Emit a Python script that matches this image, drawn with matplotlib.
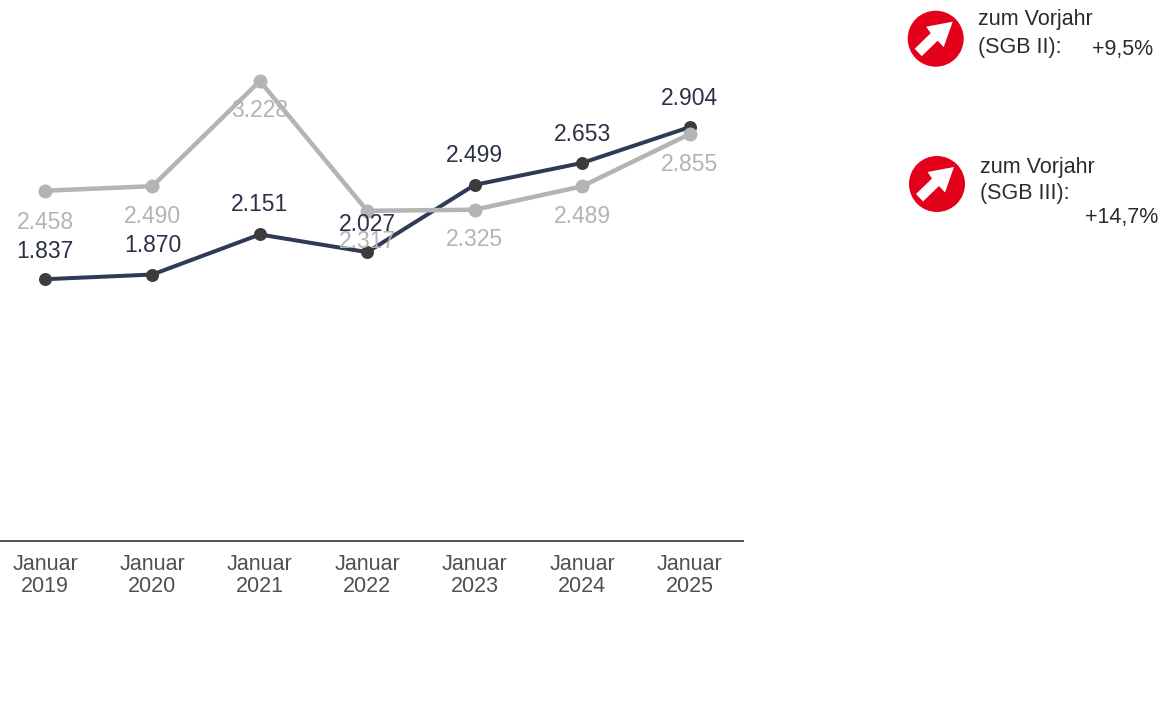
import matplotlib
matplotlib.use("Agg")
import matplotlib.pyplot as plt
from matplotlib.patches import Circle, Polygon

plt.rcParams['font.family'] = ['Liberation Sans', 'DejaVu Sans']

years = ["2019", "2020", "2021", "2022", "2023", "2024", "2025"]
sgb2 = [1837, 1870, 2151, 2027, 2499, 2653, 2904]
sgb3 = [2458, 2490, 3228, 2317, 2325, 2489, 2855]
sgb2_labels = ["1.837", "1.870", "2.151", "2.027", "2.499", "2.653", "2.904"]
sgb3_labels = ["2.458", "2.490", "3.228", "2.317", "2.325", "2.489", "2.855"]

W, H = 1163, 704
PT = 0.72  # points per pixel at dpi 100
DARK = "#2f3a55"
DARK_TXT = "#2b3246"
GRAY = "#b4b4b4"
RED = "#e2001a"

fig = plt.figure(figsize=(W / 100, H / 100), dpi=100, facecolor="white")
ax = fig.add_axes([0, (H - 541) / H, 743 / W, 541 / H])
x = list(range(len(years)))
ax.plot(x, sgb2, color=DARK, lw=4 * PT, zorder=3, solid_capstyle="round")
ax.plot(x, sgb2, ls="", marker="o", ms=13 * PT, color="#3c3c3c", mew=0, zorder=4)
ax.plot(x, sgb3, color=GRAY, lw=4.5 * PT, zorder=5, marker="o", ms=14 * PT, mew=0)
ax.set_xlim(-0.419, 6.498)
ax.set_ylim(0, 541 / 0.1425)
for s in ["top", "left", "right"]:
    ax.spines[s].set_visible(False)
ax.spines["bottom"].set_color("#555555")
ax.spines["bottom"].set_linewidth(2 * PT)
ax.set_yticks([])
ax.set_xticks(x)
ax.set_xticklabels([f"Januar\n{y}" for y in years], fontsize=15.5, color="#505050",
                   linespacing=1.12)
ax.tick_params(axis="x", length=0, pad=9)

# label offsets from the point, in pixels (upward positive)
off2 = [28, 29, 30, 28, 29, 28, 29]
off3 = [-32, -30, -29, -31, -30, -30, -30]
for i in x:
    ax.annotate(sgb3_labels[i], (i, sgb3[i]), xytext=(0, off3[i] * PT), textcoords="offset points",
                ha="center", va="center", fontsize=16.5, color=GRAY, zorder=6)
for i in x:
    ax.annotate(sgb2_labels[i], (i, sgb2[i]), xytext=(0, off2[i] * PT), textcoords="offset points",
                ha="center", va="center", fontsize=16.5, color=DARK_TXT, zorder=7)

# overlay in pixel coordinates for the two badges
ov = fig.add_axes([0, 0, 1, 1], facecolor="none")
ov.set_xlim(0, W)
ov.set_ylim(H, 0)
ov.axis("off")
arrow = [(17, -17), (-9.5, -12), (-5, -5.5), (-21, 10), (-14, 17.5), (2, 2), (8, 8.5)]
for cx, cy in [(935.7, 38.7), (937, 184)]:
    ov.add_patch(Circle((cx, cy), 28, color=RED, lw=0))
    ov.add_patch(Polygon([(cx + a, cy + b) for a, b in arrow], color="white", lw=0))

txt = dict(fontsize=15.5, color="#2b2b2b", va="center")
ov.text(978, 20, "zum Vorjahr", ha="left", **txt)
ov.text(978, 47, "(SGB II):", ha="left", **txt)
ov.text(1153, 49, "+9,5%", ha="right", **txt)
ov.text(980, 167, "zum Vorjahr", ha="left", **txt)
ov.text(980, 193, "(SGB III):", ha="left", **txt)
ov.text(1158, 218, "+14,7%", ha="right", **txt)

fig.savefig("out.png", dpi=100)
